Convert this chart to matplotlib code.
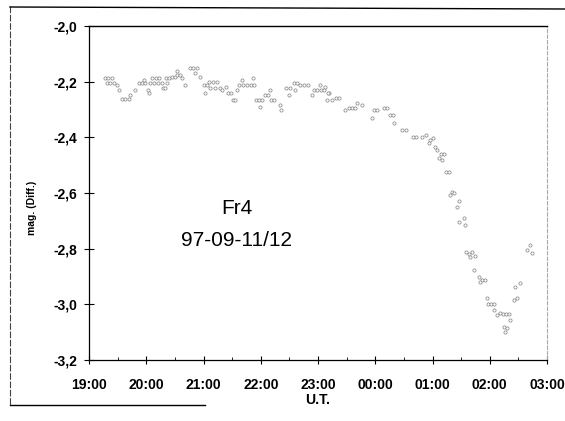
import matplotlib
matplotlib.use("Agg")
import matplotlib.pyplot as plt
from matplotlib.ticker import FixedLocator, MultipleLocator
from matplotlib.lines import Line2D

plt.rcParams['font.family'] = ['Liberation Sans', 'DejaVu Sans']

# minutes after 19:00 UT and differential magnitude
minutes = [17, 20, 24, 19, 22, 26, 29, 31, 35, 38, 42, 43, 48, 52, 56, 59, 58, 62, 63, 64,
           68, 72, 77, 82, 66, 70, 73, 78, 80, 81, 84, 87, 90, 92, 95, 92, 97, 101, 106, 109,
           113, 111, 116, 121, 124, 122,
           126, 130, 134, 127, 132, 137, 139, 144, 146, 149, 151, 153, 155, 157, 161, 166, 170,
           173, 160, 172, 175, 178, 181, 179, 184, 188, 190, 191, 194, 200, 201, 206, 210, 211,
           215, 218, 216, 221, 225, 230, 234, 236, 239, 242, 243, 246, 247, 252, 249,
           250, 255, 259, 262, 268, 272, 276, 279, 281, 286, 297, 299, 302, 309, 312, 315, 319,
           320, 328, 332, 340, 343, 349, 353, 357, 361, 356, 363, 365, 369, 372, 367, 370, 374,
           377, 380, 378, 383, 386, 388, 393, 388, 394, 395, 398, 401, 405, 399, 404, 409, 412,
           415, 410, 417, 418, 421, 424, 424, 428, 431, 434, 437, 440, 441, 435, 436, 438, 445,
           449, 446, 452, 459, 462, 464]
mag = [-2.187, -2.187, -2.187, -2.205, -2.205, -2.205, -2.212, -2.230, -2.262, -2.262, -2.262,
       -2.248, -2.230, -2.205, -2.205, -2.205, -2.194, -2.230, -2.241, -2.205,
       -2.205, -2.205, -2.205, -2.205, -2.187, -2.187, -2.187, -2.223, -2.223, -2.187, -2.187,
       -2.183, -2.183, -2.176, -2.176, -2.162, -2.187, -2.212, -2.151, -2.151,
       -2.151, -2.169, -2.183, -2.212, -2.212, -2.241,
       -2.201, -2.201, -2.201, -2.223, -2.223, -2.223, -2.230, -2.219, -2.241, -2.241, -2.266,
       -2.266, -2.230, -2.212, -2.212, -2.212, -2.212,
       -2.212, -2.194, -2.187, -2.266, -2.266, -2.266, -2.291, -2.248, -2.248, -2.230, -2.266,
       -2.266, -2.284, -2.302, -2.223, -2.248, -2.223,
       -2.205, -2.205, -2.230, -2.212, -2.212, -2.212, -2.248, -2.230, -2.230, -2.212, -2.230,
       -2.230, -2.219, -2.241, -2.266,
       -2.241, -2.266, -2.259, -2.259, -2.302, -2.295, -2.295, -2.295, -2.277, -2.284, -2.331,
       -2.302, -2.302, -2.295, -2.295, -2.320, -2.320,
       -2.349, -2.374, -2.374, -2.399, -2.399, -2.399, -2.392, -2.410, -2.402, -2.420, -2.435,
       -2.446, -2.460, -2.460, -2.474, -2.481, -2.525,
       -2.525, -2.596, -2.607, -2.600, -2.650, -2.629, -2.690, -2.704, -2.715, -2.812, -2.819,
       -2.812, -2.826, -2.830, -2.877, -2.902, -2.913,
       -2.913, -2.920, -2.977, -2.999, -2.999, -2.999, -3.020, -3.038, -3.031, -3.035, -3.035,
       -3.035, -3.056, -3.081, -3.099, -3.085, -2.984,
       -2.977, -2.938, -2.923, -2.805, -2.787, -2.816]

hour_ticks = [19, 20, 21, 22, 23, 24, 25, 26, 27]
hour_labels = ["19:00", "20:00", "21:00", "22:00", "23:00", "00:00", "01:00", "02:00", "03:00"]
mag_ticks = [-3.2, -3.0, -2.8, -2.6, -2.4, -2.2, -2.0]
mag_labels = ["-3,2", "-3,0", "-2,8", "-2,6", "-2,4", "-2,2", "-2,0"]

W, H = 565, 421
fig = plt.figure(figsize=(W / 100, H / 100), dpi=100)
ax = fig.add_axes([89 / W, 1 - 360 / H, (547 - 89) / W, (360 - 26) / H])

x = [19 + m / 60 for m in minutes]
ax.plot(x, mag, linestyle='none', marker='o', markersize=2.3, mfc='white',
        mec='#8a8a8a', mew=0.55)

ax.set_xlim(19, 27)
ax.set_ylim(-3.2, -2.0)
ax.xaxis.set_major_locator(FixedLocator(hour_ticks))
ax.set_xticklabels(hour_labels)
ax.xaxis.set_minor_locator(MultipleLocator(0.5))
ax.yaxis.set_major_locator(FixedLocator(mag_ticks))
ax.set_yticklabels(mag_labels)

for lab in ax.get_xticklabels() + ax.get_yticklabels():
    lab.set_fontweight('bold')
    lab.set_fontsize(10)

ax.tick_params(axis='x', which='major', direction='inout', length=6, width=0.8, pad=10)
ax.tick_params(axis='x', which='minor', direction='in', length=2, width=0.6)
ax.tick_params(axis='y', which='major', direction='inout', length=7, width=0.8, pad=5)

ax.spines['left'].set_linewidth(0.9)
ax.spines['bottom'].set_linewidth(0.9)
ax.spines['top'].set_linewidth(1.0)
ax.spines['right'].set_linewidth(0.8)
ax.spines['right'].set_color('#aaaaaa')
ax.spines['right'].set_linestyle((0, (3, 2)))

ax.set_ylabel("mag. (Diff.)", fontsize=7.5, fontweight='bold')
ax.yaxis.set_label_coords(-0.113, 0.455)
ax.set_xlabel("U.T.", fontsize=10, fontweight='bold', labelpad=1)

ax.text(0.323, 0.455, "Fr4", transform=ax.transAxes, ha='center', va='center', fontsize=15)
ax.text(0.323, 0.359, "97-09-11/12", transform=ax.transAxes, ha='center', va='center', fontsize=15)

# outer frame of the scanned figure
fig.add_artist(Line2D([10 / W, 10 / W], [1 - 6 / H, 1 - 405 / H], color='#444444', lw=0.8,
                      linestyle=(0, (6, 1.5))))
fig.add_artist(Line2D([10 / W, 1.0], [1 - 7 / H, 1 - 9 / H], color='black', lw=1.0))
fig.add_artist(Line2D([10 / W, 205 / W], [1 - 405 / H, 1 - 405 / H], color='black', lw=1.0))

fig.savefig("out.png", dpi=100)
